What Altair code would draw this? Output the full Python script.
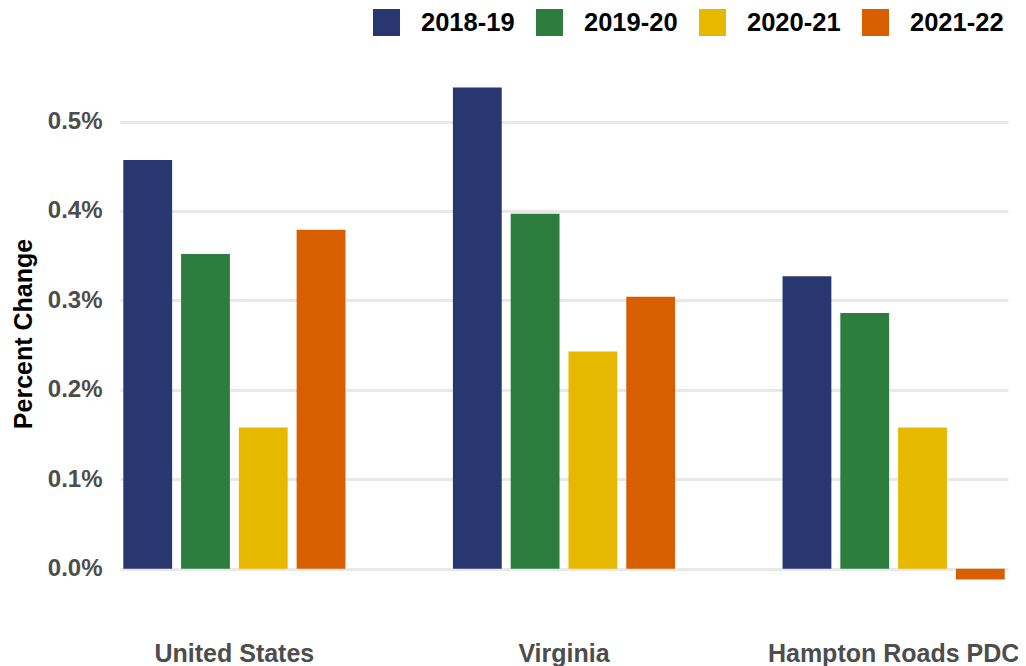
import altair as alt
import pandas as pd

regions = ["United States", "Virginia", "Hampton Roads PDC"]
periods = ["2018-19", "2019-20", "2020-21", "2021-22"]
us_values = [0.457, 0.352, 0.158, 0.379]
va_values = [0.538, 0.397, 0.243, 0.304]
hr_values = [0.327, 0.286, 0.158, -0.012]
colors = ["#283770", "#2d7d3e", "#e6b800", "#d75f00"]
y_ticks = [0.0, 0.1, 0.2, 0.3, 0.4, 0.5]

rows = []
for region, vals in zip(regions, [us_values, va_values, hr_values]):
    for p, v in zip(periods, vals):
        rows.append({"region": region, "period": p, "value": v})
df = pd.DataFrame(rows)

font = "Liberation Sans"

chart = alt.Chart(df).mark_bar().encode(
    x=alt.X("region:N", sort=regions,
            scale=alt.Scale(paddingInner=0.326, paddingOuter=0.01),
            axis=alt.Axis(title=None, labelAngle=0, domain=False, ticks=False,
                          labelFontSize=25, labelFont=font, labelFontWeight="bold",
                          labelColor="#4d4d4d", labelPadding=37, labelLimit=500,
                          labelOverlap=False)),
    xOffset=alt.XOffset("period:N", sort=periods,
                        scale=alt.Scale(paddingInner=0.155, paddingOuter=0)),
    y=alt.Y("value:Q",
            scale=alt.Scale(domain=[-0.0395, 0.5655], nice=False, zero=False),
            axis=alt.Axis(title="Percent Change", values=y_ticks,
                          labelExpr="format(datum.value, '.1f') + '%'",
                          domain=False, ticks=False, grid=True,
                          gridColor="#e8e8e8", gridWidth=3,
                          labelFontSize=24, labelFont=font, labelFontWeight="bold",
                          labelColor="#4d4d4d", labelPadding=18,
                          titleFontSize=25, titleFont=font, titleFontWeight="bold",
                          titleColor="#000000", titlePadding=11)),
    color=alt.Color("period:N", sort=periods,
                    scale=alt.Scale(domain=periods, range=colors),
                    legend=alt.Legend(title=None, orient="none", direction="horizontal",
                                      legendX=253, legendY=-54, padding=0,
                                      symbolType="square", symbolSize=729,
                                      symbolStrokeWidth=0, symbolOpacity=1,
                                      labelFontSize=25.5, labelFont=font,
                                      labelFontWeight="bold", labelColor="#000000",
                                      labelOffset=21, columnPadding=21)),
).properties(
    width=888, height=541,
    autosize=alt.AutoSizeParams(type="none"),
    padding={"left": 112, "top": 55, "right": 10, "bottom": 62},
).configure_view(stroke=None)

chart.save("out.html", embed_options={"renderer": "svg", "actions": False})
